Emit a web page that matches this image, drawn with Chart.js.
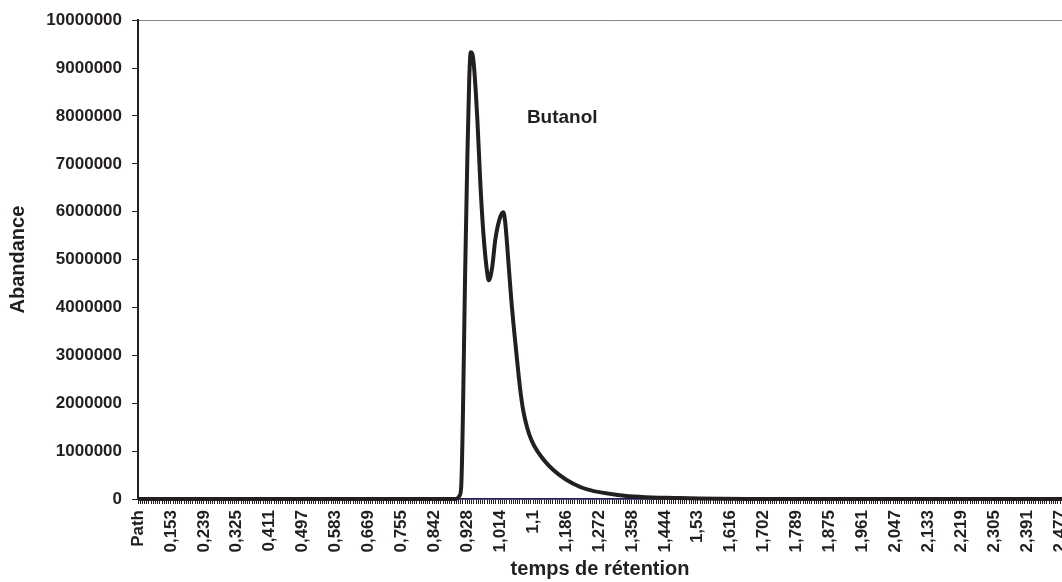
<!DOCTYPE html>
<html>
<head>
<meta charset="utf-8">
<script src="https://cdn.jsdelivr.net/npm/chart.js@4"></script>
<style>
  html, body { margin: 0; padding: 0; background: #fff; overflow: hidden; }
  #wrap { position: relative; width: 1104px; height: 582px; }
</style>
</head>
<body>
<div id="wrap"><canvas id="chrom"></canvas></div>
<script>
// retention time (min) / abundance
const retentionTimes = [0.067, 0.898, 0.906, 0.911, 0.922, 0.927, 0.932, 0.936, 0.943, 0.953, 0.961, 0.969, 0.979,
  0.983, 0.992, 1.000, 1.013, 1.021, 1.026, 1.034, 1.042, 1.057, 1.065, 1.073, 1.083, 1.095, 1.110, 1.151, 1.222, 1.326, 1.482, 1.743, 2.524];
const abundance = [0, 0, 60000, 250000, 4990000, 7080000, 8750000, 9330000, 9160000, 7970000, 6600000, 5550000, 4720000,
  4570000, 4840000, 5410000, 5890000, 5990000, 5780000, 4990000, 4150000, 2900000, 2300000, 1850000, 1500000, 1220000, 1000000, 610000, 250000, 80000, 20000, 0, 0];

// second (blue) trace, flat on the baseline
const baseTimes = [0.067, 2.524];
const baseValues = [0, 0];

// x axis labels, one every 15 samples
const tickLabels = ['Path', '0,153', '0,239', '0,325', '0,411', '0,497', '0,583', '0,669', '0,755', '0,842', '0,928',
  '1,014', '1,1', '1,186', '1,272', '1,358', '1,444', '1,53', '1,616', '1,702', '1,789', '1,875', '1,961',
  '2,047', '2,133', '2,219', '2,305', '2,391', '2,477'];
const yTicks = [0, 1000000, 2000000, 3000000, 4000000, 5000000, 6000000, 7000000, 8000000, 9000000, 10000000];

const peakName = 'Butanol';

const ink = '#231f20';
const xMin = 0.067, xMax = 2.524;
const firstTick = 0.067, sampleStep = 0.086 / 15;

Chart.defaults.font.family = '"Liberation Sans", Arial, sans-serif';
Chart.defaults.font.weight = 'bold';
Chart.defaults.color = ink;

const labelPlugin = {
  id: 'peakLabel',
  afterDatasetsDraw(chart) {
    const { ctx, scales } = chart;
    ctx.save();
    ctx.font = 'bold 19px "Liberation Sans", Arial, sans-serif';
    ctx.fillStyle = ink;
    ctx.textAlign = 'center';
    ctx.textBaseline = 'middle';
    ctx.fillText(peakName, scales.x.getPixelForValue(1.175), scales.y.getPixelForValue(7970000));
    ctx.restore();
  }
};

new Chart(document.getElementById('chrom'), {
  type: 'line',
  data: {
    datasets: [
      {
        label: 'abondance',
        data: retentionTimes.map((t, i) => ({ x: t, y: abundance[i] })),
        borderColor: ink,
        borderWidth: 4,
        pointRadius: 0,
        cubicInterpolationMode: 'monotone',
        clip: 6
      },
      {
        label: 'base',
        data: baseTimes.map((t, i) => ({ x: t, y: baseValues[i] })),
        borderColor: '#1c1f8a',
        borderWidth: 1,
        pointRadius: 0,
        clip: 6
      }
    ]
  },
  options: {
    responsive: true,
    maintainAspectRatio: false,
    animation: false,
    layout: { padding: { top: 20, left: 0, right: 0, bottom: 0 } },
    plugins: { legend: { display: false }, tooltip: { enabled: false } },
    scales: {
      x: {
        type: 'linear',
        min: xMin,
        max: xMax,
        afterBuildTicks: (axis) => {
          const t = [];
          for (let v = firstTick; v <= xMax; v += sampleStep) t.push({ value: v });
          axis.ticks = t;
        },
        afterFit: (s) => { s.height = 83; },
        ticks: {
          autoSkip: false,
          minRotation: 90,
          maxRotation: 90,
          padding: 6,
          font: { size: 17, weight: 'bold' },
          callback: (v, i) => (i % 15 === 0 ? (tickLabels[i / 15] || '') : '')
        },
        grid: { drawOnChartArea: false, tickLength: 5, tickColor: ink, tickWidth: 1 },
        border: { color: ink, width: 1.5 },
        title: {
          display: true,
          text: 'temps de rétention\u00a0\u00a0\u00a0',
          font: { size: 20, weight: 'bold' },
          padding: { top: 0, bottom: 1 }
        }
      },
      y: {
        min: 0,
        max: 10000000,
        afterBuildTicks: (axis) => { axis.ticks = yTicks.map(v => ({ value: v })); },
        afterFit: (s) => { s.width = 138; },
        ticks: { padding: 10, font: { size: 17, weight: 'bold' }, callback: (v) => String(v) },
        grid: {
          color: (c) => (c.tick && c.tick.value === 10000000 ? '#8a8a8a' : 'rgba(0,0,0,0)'),
          tickColor: ink,
          tickLength: 6,
          lineWidth: 1
        },
        border: { color: ink, width: 2 },
        title: {
          display: true,
          text: 'Abandance',
          font: { size: 20, weight: 'bold' },
          padding: { top: 6, bottom: 0 }
        }
      }
    }
  },
  plugins: [labelPlugin]
});
</script>
</body>
</html>
